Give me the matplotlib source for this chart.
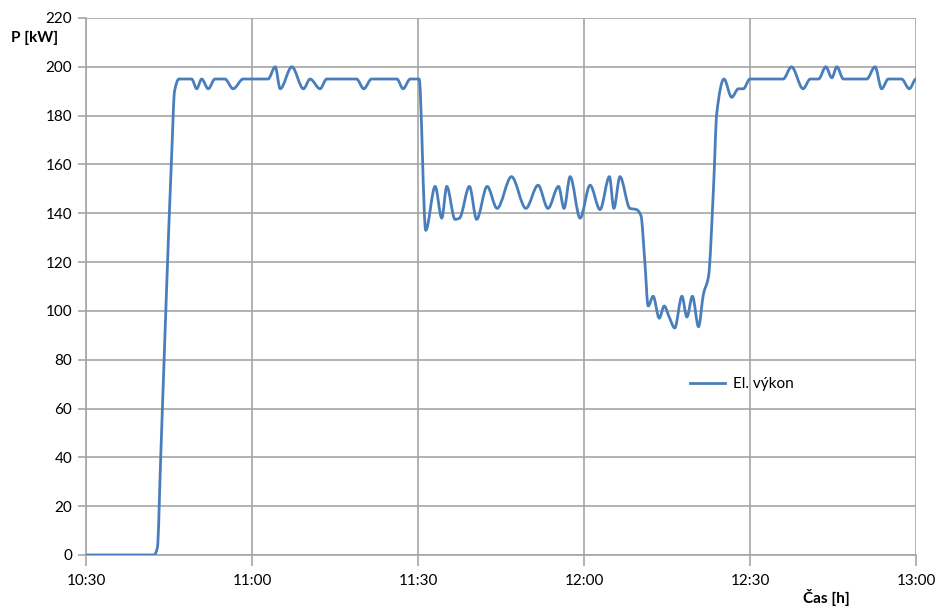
"""El. výkon vs čas - replica of an Excel smoothed line chart."""

import matplotlib

matplotlib.use("Agg")
import matplotlib.pyplot as plt  # noqa: E402
import numpy as np  # noqa: E402
from matplotlib.lines import Line2D  # noqa: E402
from matplotlib.patches import PathPatch  # noqa: E402
from matplotlib.path import Path  # noqa: E402

# minutes after 10:30, power [kW]
minutes = [
    0, 12.3, 12.9, 13.5, 14.5, 15.5, 16.0, 16.8, 19.1, 20.0, 20.9, 22.1, 23.3,
    25.1, 26.6, 28.4, 32.9, 34.2, 35.1, 37.2, 39.3, 40.5, 42.3, 43.5, 48.9,
    50.2, 51.6, 56.2, 57.3, 58.6, 60.2, 61.4, 63.1, 64.3, 65.2, 66.7, 67.5,
    69.3, 70.6, 72.5, 74.3, 76.9, 79.5, 81.7, 83.5, 85.4, 86.4, 87.5, 89.3,
    91.1, 92.9, 94.6, 95.4, 96.5, 98.3, 99.5, 100.3, 101.0, 101.6, 102.5,
    103.6, 104.5, 105.4, 106.4, 107.7, 108.6, 109.6, 110.7, 111.6, 112.5,
    113.4, 114.0, 115.3, 116.7, 117.9, 118.8, 120.0, 126.0, 127.5, 129.6,
    130.9, 132.4, 133.7, 134.8, 135.7, 136.9, 141.1, 142.6, 143.8, 145.0,
    147.4, 148.8, 150.0,
]
power = [
    0, 0, 3, 40, 105, 165, 190, 195, 195, 191, 195, 191, 195,
    195, 191, 195, 195, 200, 191, 200, 191, 195, 191, 195, 195,
    191, 195, 195, 191, 195, 195, 133, 151, 138, 151, 137.5, 138,
    151, 137.5, 151, 142, 155, 142, 151.5, 142, 151, 142, 155, 138,
    151.5, 141.5, 155, 142, 155, 142, 141.5, 139, 120, 102, 106,
    97, 102, 97.5, 93, 106, 97.5, 106, 93.5, 107, 114,
    150, 181, 195, 187.5, 191, 191, 195, 195, 200, 191,
    195, 195, 200, 195.5, 200, 195, 195, 200, 191, 195,
    195, 191, 195,
]

x_ticks = [0, 30, 60, 90, 120, 150]
x_tick_labels = ["10:30", "11:00", "11:30", "12:00", "12:30", "13:00"]
y_ticks = list(range(0, 221, 20))

LINE = "#4a7ebb"
GRID = "#a6a6a6"


def smooth_path(x, y):
    """Bezier path through the points (monotone cubic tangents)."""
    x = np.asarray(x, float)
    y = np.asarray(y, float)
    h = np.diff(x)
    d = np.diff(y) / h
    m = np.zeros_like(y)
    for i in range(1, len(x) - 1):
        if d[i - 1] * d[i] > 0:
            w1 = 2 * h[i] + h[i - 1]
            w2 = h[i] + 2 * h[i - 1]
            m[i] = (w1 + w2) / (w1 / d[i - 1] + w2 / d[i])
    verts = [(x[0], y[0])]
    codes = [Path.MOVETO]
    for i in range(len(h)):
        verts += [
            (x[i] + h[i] / 3, y[i] + m[i] * h[i] / 3),
            (x[i + 1] - h[i] / 3, y[i + 1] - m[i + 1] * h[i] / 3),
            (x[i + 1], y[i + 1]),
        ]
        codes += [Path.CURVE4] * 3
    return Path(verts, codes)


def main() -> None:
    plt.rcParams["font.family"] = ["Lato", "DejaVu Sans"]
    fig = plt.figure(figsize=(9.41, 6.08), dpi=100)
    ax = fig.add_axes([0.0914, 0.0872, 0.882, 0.8832])

    ax.add_patch(PathPatch(smooth_path(minutes, power), fill=False,
                           edgecolor=LINE, lw=2.0, joinstyle="round",
                           capstyle="round", zorder=3))

    ax.set_xlim(0, 150)
    ax.set_ylim(0, 220)
    ax.set_xticks(x_ticks)
    ax.set_xticklabels(x_tick_labels)
    ax.set_yticks(y_ticks)
    ax.grid(True, color=GRID, lw=1.2)
    for side in ("top", "right"):
        ax.spines[side].set_visible(False)
    for side in ("left", "bottom"):
        ax.spines[side].set_color(GRID)
        ax.spines[side].set_linewidth(1.2)
    ax.tick_params(axis="x", length=8, width=1.2, color=GRID, labelsize=11,
                   pad=6)
    ax.tick_params(axis="y", length=6, width=1.2, color=GRID, labelsize=11,
                   pad=4)

    fig.text(0.012, 0.937, "P [kW]", fontsize=11, fontweight="bold",
             ha="left", va="center")
    fig.text(0.878, 0.003, "Čas [h]", fontsize=11, fontweight="bold",
             ha="center", va="bottom")

    handle = Line2D([], [], color=LINE, lw=2.0)
    ax.legend([handle], ["El. výkon"], loc="center left",
              bbox_to_anchor=(0.711, 0.318), frameon=False, fontsize=11,
              handlelength=2.3, handletextpad=0.5)

    fig.savefig("out.png", dpi=100)
    plt.close(fig)


if __name__ == "__main__":
    main()
